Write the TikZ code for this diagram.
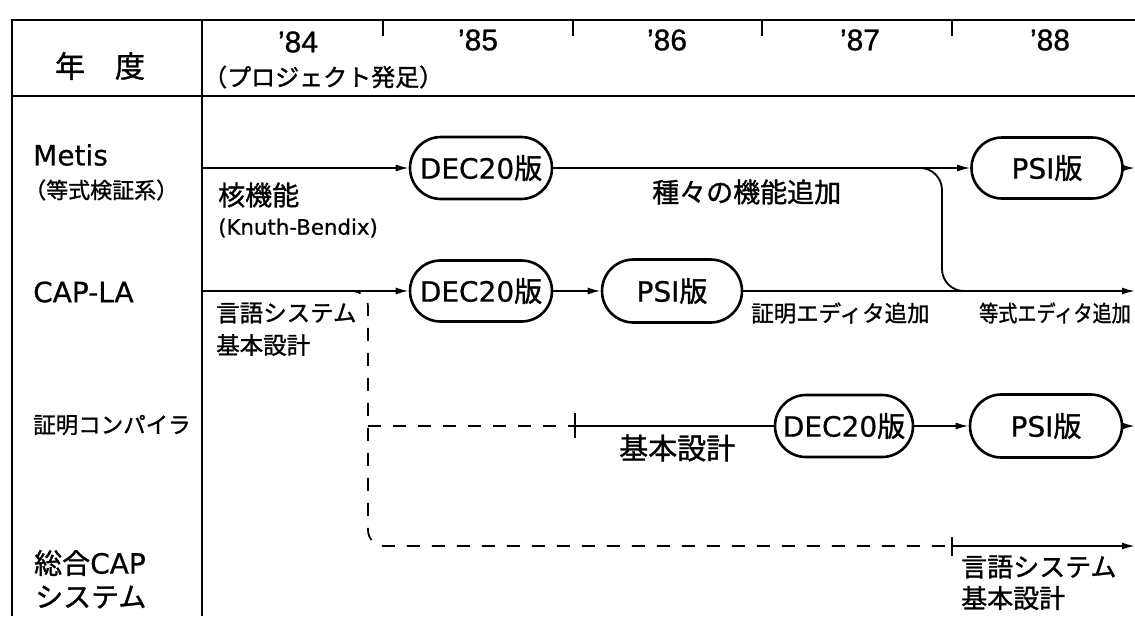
\documentclass[tikz,border=0pt]{standalone}
\usepackage{fontspec}
\setmainfont{DejaVu Sans}[FakeBold=0.6]
\newfontfamily\jp{Noto Sans CJK JP}[FakeBold=1.2]
\newfontfamily\yr{Liberation Sans}[FakeBold=0.8]
\usetikzlibrary{arrows.meta,shapes.misc}
\begin{document}
\begin{tikzpicture}[x=1pt,y=-1pt,
  frame/.style={line width=2.6pt},
  conn/.style={line width=1.8pt},
  arr/.style={conn,-{Latex[length=13pt,width=7pt]}},
  ver/.style={rounded rectangle,draw,line width=2.6pt,inner sep=0pt,font=\fontsize{28}{30}\selectfont},
  lbl/.style={anchor=west,inner sep=0pt},
  yrs/.style={inner sep=0pt,font=\yr\fontsize{30}{32}\selectfont},
  dsh/.style={conn,dash pattern=on 13pt off 12pt},
]
\useasboundingbox (0,0) rectangle (1135,616);
\fill[white] (0,0) rectangle (1135,616);
% table frame
\draw[frame] (1135,20) -- (12,20) -- (12,616);
\draw[frame] (202,20) -- (202,616);
\draw[frame] (12,96) -- (1135,96);
\foreach \x in {383,573,762,952} \draw[conn] (\x,20) -- (\x,36);
% header
\node[inner sep=0pt,font=\jp\fontsize{30}{32}\selectfont] (nendo) at (100,66) {年　度};
\node[yrs] (y84) at (298,42) {’84};
\node[yrs] (y85) at (478,40) {’85};
\node[yrs] (y86) at (667,40) {’86};
\node[yrs] (y87) at (860,40) {’87};
\node[yrs] (y88) at (1050,40) {’88};
\node[lbl,font=\jp\fontsize{24}{26}\selectfont] (proj) at (203,77) {（プロジェクト発足）};
% row labels
\node[lbl,font=\fontsize{28}{30}\selectfont] (metis) at (33,155) {Metis};
\node[lbl,font=\jp\fontsize{22}{24}\selectfont] (metis2) at (24,190) {（等式検証系）};
\node[lbl,font=\fontsize{28}{30}\selectfont] (capla) at (33,292) {CAP-LA};
\node[lbl,font=\jp\fontsize{22.5}{24}\selectfont] (comp) at (33,425) {証明コンパイラ};
\node[lbl,font=\fontsize{28}{30}\selectfont] (sogo) at (34,563) {{\jp 総合}CAP};
\node[lbl,font=\jp\fontsize{28}{30}\selectfont] (sys) at (35,597) {システム};
% version nodes
\node[ver,minimum width=142pt,minimum height=62pt] (dec1) at (481,168) {DEC20{\jp 版}};
\node[ver,minimum width=151pt,minimum height=61pt] (psi1) at (1047,168) {PSI{\jp 版}};
\node[ver,minimum width=142pt,minimum height=61pt] (dec2) at (481,291) {DEC20{\jp 版}};
\node[ver,minimum width=140pt,minimum height=63pt] (psi2) at (672,291) {PSI{\jp 版}};
\node[ver,minimum width=138pt,minimum height=62pt] (dec3) at (844,426) {DEC20{\jp 版}};
\node[ver,minimum width=152pt,minimum height=63pt] (psi3) at (1046,426) {PSI{\jp 版}};
% coordinates
\coordinate (m0) at (202,168);
\coordinate (m1) at (1135,168);
\coordinate (c0) at (202,291);
\coordinate (c1) at (1135,291);
\coordinate (p1) at (1135,426);
\coordinate (br0) at (900,168);
\coordinate (br1) at (990,291);
\coordinate (ds0) at (348,291);
\coordinate (tk1) at (575,426);
\coordinate (tk2) at (952,546);
\coordinate (s1) at (1135,546);
% connectors
\draw[arr] (m0) -- (dec1.west);
\draw[arr] (dec1.east) -- (psi1.west);
\draw[arr] (psi1.east) -- (m1);
\draw[conn,rounded corners=22pt] (br0) -- (942,168) -- (942,291) -- (br1);
\draw[arr] (c0) -- (dec2.west);
\draw[arr] (dec2.east) -- (psi2.west);
\draw[arr] (psi2.east) -- (c1);
\draw[dsh,rounded corners=16pt] (ds0) -| (368,546) -- (tk2);
\draw[dsh] (368,426) -- (tk1);
\draw[conn] (575,413) -- (575,438);
\draw[conn] (tk1) -- (dec3.west);
\draw[arr] (dec3.east) -- (psi3.west);
\draw[arr] (psi3.east) -- (p1);
\draw[conn] (952,537) -- (952,556);
\draw[arr] (tk2) -- (s1);
% edge labels
\node[lbl,font=\jp\fontsize{27}{29}\selectfont] (kaku) at (218,195) {核機能};
\node[lbl,font=\fontsize{21.3}{23}\selectfont] (kb) at (218,228) {(Knuth-Bendix)};
\node[lbl,font=\jp\fontsize{27}{29}\selectfont] (shuju) at (652,192) {種々の機能追加};
\node[lbl,font=\jp\fontsize{23.5}{25}\selectfont] (gengo1) at (216,313) {言語システム};
\node[lbl,font=\jp\fontsize{23.5}{25}\selectfont] (kihon1) at (216,345) {基本設計};
\node[lbl,font=\jp\fontsize{22.5}{24}\selectfont] (shomei) at (751,313) {証明エディタ追加};
\node[lbl,xscale=0.85,font=\jp\fontsize{22.5}{24}\selectfont] (toshiki) at (979,313) {等式エディタ追加};
\node[lbl,font=\jp\fontsize{29}{31}\selectfont] (kihon2) at (619,448) {基本設計};
\node[lbl,font=\jp\fontsize{26}{28}\selectfont] (gengo2) at (961,567) {言語システム};
\node[lbl,font=\jp\fontsize{26}{28}\selectfont] (kihon3) at (961,598) {基本設計};
\end{tikzpicture}
\end{document}
